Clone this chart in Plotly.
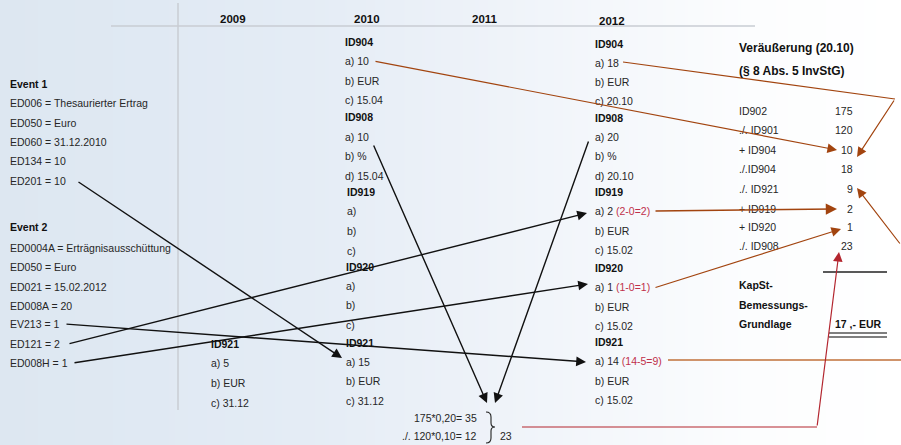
import plotly.graph_objects as go

# ---------------- data (texts) ----------------
years = ["2009", "2010", "2011", "2012"]

event1 = ["Event 1", "ED006 = Thesaurierter Ertrag", "ED050 = Euro",
          "ED060 = 31.12.2010", "ED134 = 10", "ED201 = 10"]
event2 = ["Event 2", "ED0004A = Erträgnisausschüttung", "ED050 = Euro",
          "ED021 = 15.02.2012", "ED008A = 20", "EV213 = 1", "ED121 = 2", "ED008H = 1"]

col2009 = ["ID921", "a) 5", "b) EUR", "c) 31.12"]
col2010 = ["ID904", "a) 10", "b) EUR", "c) 15.04",
           "ID908", "a) 10", "b) %", "d) 15.04",
           "ID919", "a)", "b)", "c)",
           "ID920", "a)", "b)", "c)",
           "ID921", "a) 15", "b) EUR", "c) 31.12"]
col2012 = ["ID904", "a) 18", "b) EUR", "c) 20.10",
           "ID908", "a) 20", "b) %", "d) 20.10",
           "ID919", "a) 2", "b) EUR", "c) 15.02",
           "ID920", "a) 1", "b) EUR", "c) 15.02",
           "ID921", "a) 14", "b) EUR", "c) 15.02"]
col2012_notes = {9: "(2-0=2)", 13: "(1-0=1)", 17: "(14-5=9)"}

sale_title = ["Veräußerung (20.10)", "(§ 8 Abs. 5 InvStG)"]
sale_labels = ["ID902", "./. ID901", "+ ID904", "./.ID904", "./. ID921", "+ ID919", "+ ID920", "./. ID908"]
sale_values = ["175", "120", "10", "18", "9", "2", "1", "23"]
result_labels = ["KapSt-", "Bemessungs-", "Grundlage"]
result_value = "17 ,- EUR"
calc_lines = ["175*0,20= 35", "./. 120*0,10= 12"]
calc_total = "23"

# ---------------- layout geometry / styles ----------------
W, H = 901, 445
FONT = "Liberation Sans, Arial, sans-serif"
TXT = "#262626"
BROWN = "#a2440f"
RED = "#b3262f"
NOTE_RED = "#c0304a"

year_x = [233, 367, 485, 612]
year_y = [19, 19, 19, 21]
event1_y = [84, 103, 123, 142, 161, 181]
event2_y = [227, 248, 267, 287, 306, 324, 344, 363]
col2009_y = [344, 363, 383, 403]
col2010_y = [42, 61, 81, 100, 117, 137, 156, 176, 192, 211, 231, 251,
             267, 286, 305, 325, 343, 362, 381, 401]
col2010_x = [345] * 8 + [347] * 4 + [346] * 8
col2012_y = [44, 63, 82, 101, 118, 137, 156, 176, 192, 211, 231, 250,
             268, 287, 307, 326, 342, 361, 381, 400]
sale_title_y = [48, 71]
sale_y = [111, 130, 150, 169, 189, 209, 227, 246]
result_y = [285, 305, 324]

fig = go.Figure()

# background gradient
grad_x = [0, 150, 300, 450, 600, 750, 901]
fig.add_trace(go.Heatmap(
    x=grad_x, y=[0, H], z=[[0, 1, 2, 3, 4, 5, 6]] * 2, zsmooth="best",
    colorscale=[[0, "rgb(221,231,241)"], [1/6, "rgb(224,233,243)"], [2/6, "rgb(228,236,245)"],
                [3/6, "rgb(236,241,248)"], [4/6, "rgb(244,247,251)"], [5/6, "rgb(252,253,254)"],
                [1, "rgb(255,255,255)"]],
    showscale=False, hoverinfo="skip"))

ann = []


def text(x, y, s, bold=False, size=10.5, anchor="left", color=TXT):
    if bold:
        s = "<b>" + s + "</b>"
    ann.append(dict(x=x, y=y, text=s, showarrow=False, xanchor=anchor, yanchor="middle",
                    borderpad=0, borderwidth=0,
                    font=dict(family=FONT, size=size, color="#111" if bold else color),
                    xref="x", yref="y"))


for yx, yy, yt in zip(year_x, year_y, years):
    text(yx, yy, yt, bold=True, size=11.5, anchor="center")

for i, (s, y) in enumerate(zip(event1, event1_y)):
    text(10, y, s, bold=(i == 0))
for i, (s, y) in enumerate(zip(event2, event2_y)):
    text(10, y, s, bold=(i == 0))
for i, (s, y) in enumerate(zip(col2009, col2009_y)):
    text(211, y, s, bold=s.startswith("ID"))
for s, y, x in zip(col2010, col2010_y, col2010_x):
    text(x, y, s, bold=s.startswith("ID"))
for i, (s, y) in enumerate(zip(col2012, col2012_y)):
    if i in col2012_notes:
        s = s + ' <span style="color:%s">%s</span>' % (NOTE_RED, col2012_notes[i])
    text(595, y, s, bold=s.startswith("ID"))

for s, y in zip(sale_title, sale_title_y):
    text(739, y, s, bold=True, size=12)
for l, v, y in zip(sale_labels, sale_values, sale_y):
    text(739, y, l)
    text(853, y, v, anchor="right")
for s, y in zip(result_labels, result_y):
    text(739, y, s, bold=True)
text(882, 324, result_value, bold=True, anchor="right")

text(477, 418, calc_lines[0], anchor="right")
text(477, 436, calc_lines[1], anchor="right")
text(500, 436, calc_total)

shapes = []


def line(x0, y0, x1, y1, color, width=1.3):
    shapes.append(dict(type="line", x0=x0, y0=y0, x1=x1, y1=y1, xref="x", yref="y",
                       line=dict(color=color, width=width)))


def arrow(x0, y0, x1, y1, color, width=1.4, size=1.4):
    ann.append(dict(x=x1, y=y1, ax=x0, ay=y0, xref="x", yref="y", axref="x", ayref="y",
                    text="", showarrow=True, arrowhead=2, arrowsize=size, arrowwidth=width,
                    arrowcolor=color, standoff=0, startstandoff=0))


# grid lines
line(111, 26, 755, 26, "#c9cdd3", 1.5)
line(178, 3, 178, 410, "#c9cdd3", 1.5)

# result lines
line(823, 272, 887, 272, "#222", 1.3)
line(829, 333, 887, 333, "#555", 1.3)
line(829, 337, 887, 337, "#555", 1.3)

# brace
shapes.append(dict(type="path", xref="x", yref="y",
                   path="M 486 412 Q 491 412 491 417 L 491 423 Q 491 427 495 427 "
                        "Q 491 427 491 431 L 491 438 Q 491 443 486 443",
                   line=dict(color="#222", width=1.1)))

# black arrows
arrow(77, 181, 342, 358, "#111")
arrow(65, 324, 586, 362, "#111")
arrow(68, 344, 587, 213, "#111")
arrow(73, 363, 588, 284, "#111")
arrow(373, 144, 487, 403, "#111")
arrow(589, 140, 495, 403, "#111")

# brown arrows
arrow(374, 61, 837, 150, BROWN, 1.2, 1.6)
line(623, 62, 895, 99, BROWN, 1.2)
arrow(895, 99, 857, 157, BROWN, 1.2, 1.6)
arrow(654, 211, 837, 209, BROWN, 1.6, 1.4)
arrow(654, 288, 841, 229, BROWN, 1.2, 1.6)
line(668, 360, 901, 360, "#c0703a", 1.3)
arrow(901, 245, 857, 188, BROWN, 1.2, 1.6)

# red arrow
line(522, 427, 817, 427, RED, 1.2)
arrow(817, 427, 839, 252, RED, 1.2, 1.6)

fig.update_layout(
    width=W, height=H, margin=dict(l=0, r=0, t=0, b=0),
    paper_bgcolor="white", plot_bgcolor="white",
    xaxis=dict(range=[0, W], visible=False, fixedrange=True),
    yaxis=dict(range=[H, 0], visible=False, fixedrange=True),
    annotations=ann, shapes=shapes, showlegend=False)

fig.write_html("out.html", config={"displayModeBar": False},
               post_script="document.body.style.margin='0';document.body.style.overflow='hidden';")
